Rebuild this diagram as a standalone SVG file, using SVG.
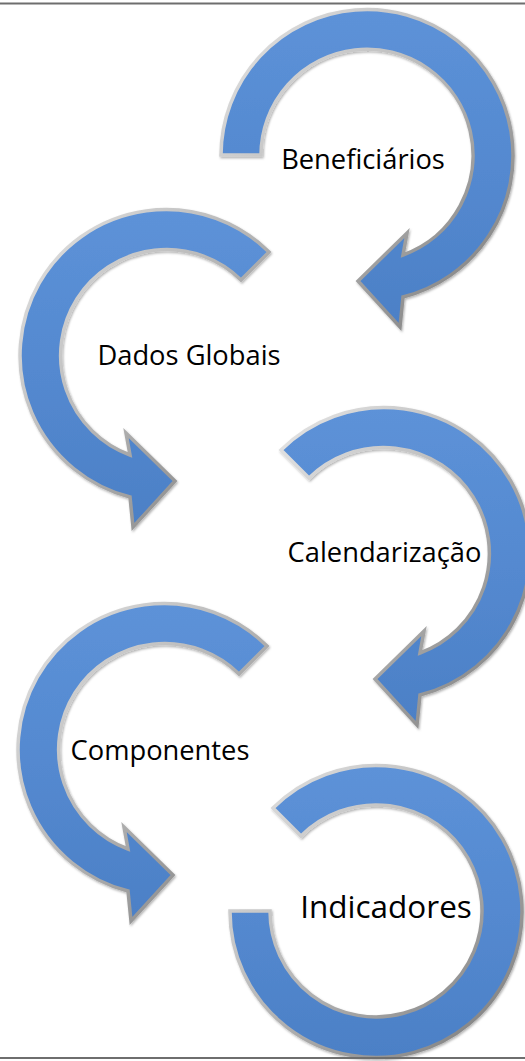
<svg xmlns="http://www.w3.org/2000/svg" width="525" height="1061" viewBox="0 0 525 1061">
  <defs>
    <linearGradient id="blue" x1="0" y1="0" x2="0" y2="1">
      <stop offset="0" stop-color="#5d92d8"/>
      <stop offset="0.5" stop-color="#5489d0"/>
      <stop offset="1" stop-color="#4c80c6"/>
    </linearGradient>
    <linearGradient id="rim" x1="0" y1="0" x2="1" y2="1">
      <stop offset="0" stop-color="#e6e6e6"/>
      <stop offset="0.5" stop-color="#b4b4b4"/>
      <stop offset="1" stop-color="#777777"/>
    </linearGradient>
    <filter id="shadow" x="-10%" y="-10%" width="120%" height="120%">
      <feDropShadow dx="1" dy="1.5" stdDeviation="1.2" flood-color="#000" flood-opacity="0.3"/>
    </filter>
  </defs>
  <style>
    .arrow { fill: url(#blue); stroke: url(#rim); stroke-width: 3.5; stroke-linejoin: miter; filter: url(#shadow); }
    .label { font-family: "Open Sans", "Liberation Sans", sans-serif; font-size: 27.3px; fill: #000; text-anchor: middle; }
    .big { font-size: 31.5px; }
    .frame { stroke: #6e6e6e; stroke-width: 2; fill: none; }
  </style>
  <rect x="0" y="0" width="525" height="1061" fill="#ffffff"/>

  <g id="beneficiarios">
    <path class="arrow" d="M 221,155 A 146 146 0 1 1 403,297 L 400,327 L 358,281 L 407,233 L 403,255 A 106 106 0 1 0 261,155 Z"/>
    <text class="label" x="363" y="169">Beneficiários</text>
  </g>

  <g id="dados-globais">
    <path class="arrow" d="M 269,252 A 146 146 0 1 0 130,497 L 133,527 L 175,481 L 126,433 L 130,455 A 106 106 0 1 1 241,280 Z"/>
    <text class="label" x="189" y="365">Dados Globais</text>
  </g>

  <g id="calendarizacao">
    <path class="arrow" d="M 281,450 A 146 146 0 1 1 420,695 L 417,725 L 375,679 L 424,631 L 420,653 A 106 106 0 1 0 309,478 Z"/>
    <text class="label" x="384.5" y="562">Calendarização</text>
  </g>

  <g id="componentes">
    <path class="arrow" d="M 267,646 A 146 146 0 1 0 128,891 L 131,921 L 173,875 L 124,827 L 128,849 A 106 106 0 1 1 239,674 Z"/>
    <text class="label" x="160" y="760">Componentes</text>
  </g>

  <g id="indicadores">
    <path class="arrow" d="M 273,808 A 146 146 0 1 1 230,911 L 270,911 A 106 106 0 1 0 301,836 Z"/>
    <text class="label big" x="386" y="918">Indicadores</text>
  </g>

  <g id="connectors"></g>

  <g id="frame">
    <line class="frame" x1="0" y1="3.5" x2="525" y2="3.5"/>
    <line class="frame" x1="0" y1="1058" x2="525" y2="1058"/>
  </g>
</svg>
